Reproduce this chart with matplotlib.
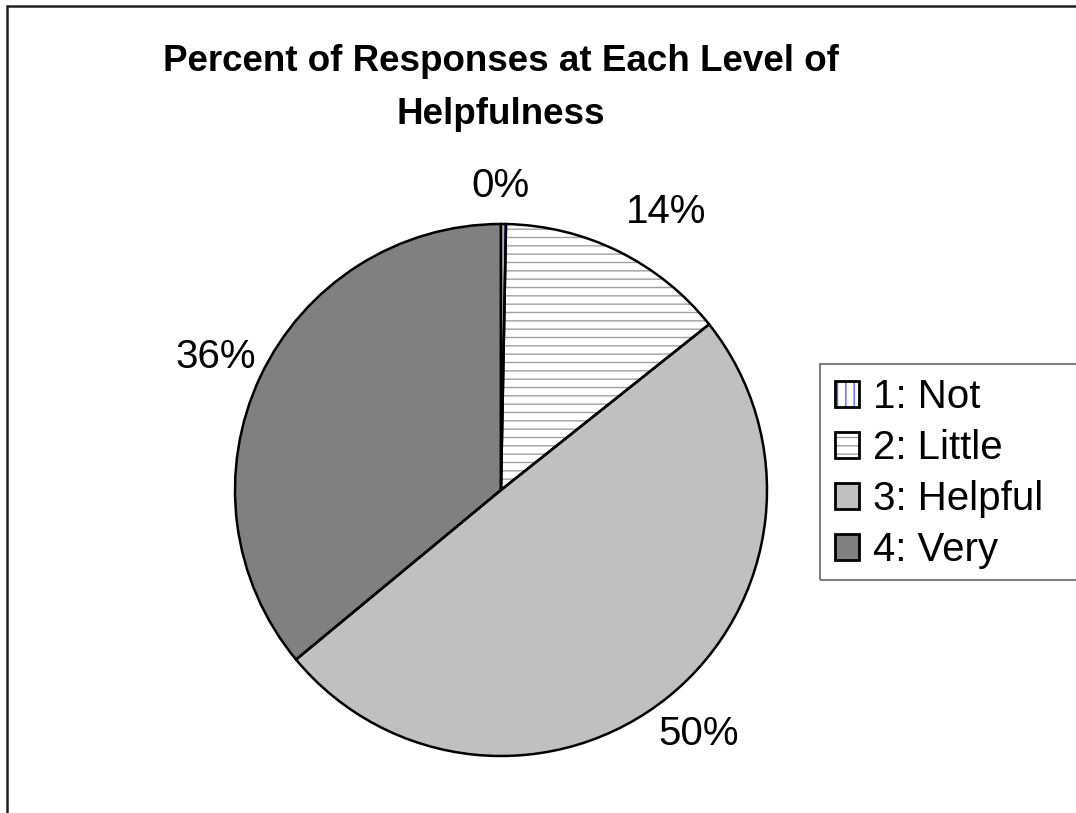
import matplotlib.pyplot as plt
from matplotlib.patches import Patch, Rectangle

plt.rcParams['font.family'] = ['Liberation Sans', 'DejaVu Sans']

# data
categories = ['1: Not', '2: Little', '3: Helpful', '4: Very']
percents = [0.3, 14.0, 49.7, 36.0]
fills = ['white', 'white', '#c0c0c0', '#808080']
hatches = ['||', '--', None, None]
hatch_cols = ['#6060ff', '#a0a0a0', 'none', 'none']
title = 'Percent of Responses at Each Level of\nHelpfulness'

fig = plt.figure(figsize=(10.76, 8.13), dpi=100)
ax = fig.add_axes([0, 0, 1, 1])

cx, cy, r = 501, 813 - 490, 266

# fill + hatch layer
wedges, texts, autotexts = ax.pie(percents, colors=fills, startangle=90, counterclock=False,
                                  center=(cx, cy), radius=r, frame=True,
                                  autopct='%.0f%%', pctdistance=1.18,
                                  wedgeprops=dict(linewidth=0),
                                  textprops=dict(fontsize=29))
for w, h, hc in zip(wedges, hatches, hatch_cols):
    if h:
        w.set_hatch(h)
        w.set_edgecolor(hc)
# outline layer
ax.pie(percents, startangle=90, counterclock=False, center=(cx, cy), radius=r, frame=True,
       wedgeprops=dict(fill=False, edgecolor='black', linewidth=1.8))
ax.set_xlim(0, 1076)
ax.set_ylim(0, 813)
ax.set_aspect('equal')
ax.axis('off')

# nudge the small-slice labels like the original
autotexts[1].set_position((666, 813 - 212))
autotexts[0].set_position((500, 813 - 186))
autotexts[3].set_position((216, 813 - 357))

fig.text(501 / 1076, 1 - 88 / 813, title, ha='center', va='center',
         fontsize=26.5, fontweight='bold', linespacing=1.65)

# chart area border (left and top only visible)
ax.add_patch(Rectangle((7, -20), 1200, 813 - 6 + 20, fill=False, edgecolor='#202020',
                       linewidth=1.8, clip_on=False))

# legend box
ax.add_patch(Rectangle((820, 813 - 580), 400, 580 - 364, fill=False, edgecolor='#808080',
                       linewidth=1.5, clip_on=False))

handles = []
for f, h, hc in zip(fills, hatches, hatch_cols):
    inner = Patch(facecolor=f, edgecolor=hc if h else 'none', linewidth=0, hatch=h)
    outline = Patch(facecolor='none', edgecolor='black', linewidth=2)
    handles.append((inner, outline))
leg = fig.legend(handles, categories, loc='upper left',
                 bbox_to_anchor=(820 / 1076, 1 - 363 / 813),
                 fontsize=29, frameon=False, borderaxespad=0,
                 handlelength=0.58, handleheight=0.6, handletextpad=0.35,
                 labelspacing=0.32, borderpad=0.38)

fig.savefig('out.png', dpi=100)
